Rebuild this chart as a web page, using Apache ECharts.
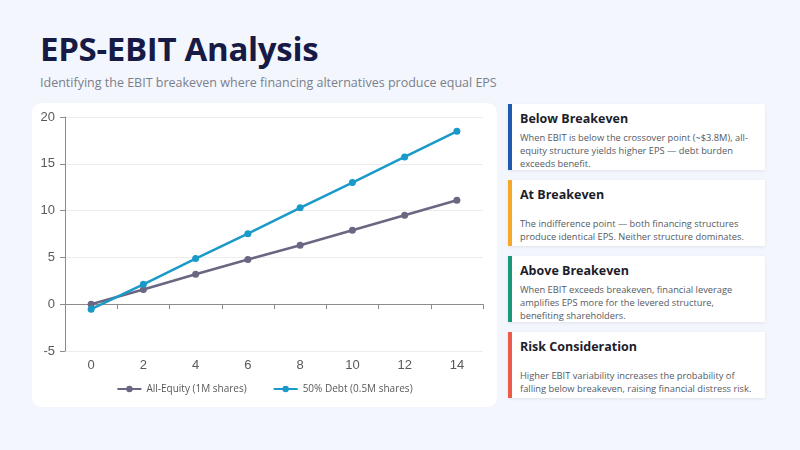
<!DOCTYPE html>
<html>
<head>
<meta charset="utf-8">
<script src="https://cdn.jsdelivr.net/npm/echarts@6/dist/echarts.min.js"></script>
<style>
body{margin:0;width:800px;height:450px;background:#f3f6fc;font-family:"Open Sans","Noto Sans",sans-serif;position:relative;overflow:hidden}
h1{position:absolute;left:40px;top:26px;margin:0;font-size:33px;font-weight:700;color:#161a45;letter-spacing:-0.3px}
.sub{position:absolute;left:40px;top:74px;font-size:12.5px;color:#7a7f8c}
.chartbox{position:absolute;left:32px;top:103px;width:465px;height:304px;background:#fff;border-radius:10px}
#chart{width:465px;height:304px}
.card{position:absolute;left:508px;width:257px;height:66px;background:#fff;box-shadow:0 1px 3px rgba(0,0,0,0.08);box-sizing:border-box;padding:6px 8px 0 12px}
.card:before{content:'';position:absolute;left:0;top:0;bottom:0;width:4px;background:var(--c)}
.card h3{margin:0;font-size:12.5px;font-weight:700;color:#1c1d2a}
.card p{margin:4px 0 0;font-size:9.3px;line-height:13px;color:#555a63}
.card p.gap{margin-top:14px}
</style>
</head>
<body>
<h1>EPS-EBIT Analysis</h1>
<div class="sub">Identifying the EBIT breakeven where financing alternatives produce equal EPS</div>
<div class="chartbox"><div id="chart"></div></div>

<div class="card" style="top:104px;--c:#1f5bb0"><h3>Below Breakeven</h3><p>When EBIT is below the crossover point (~$3.8M), all-equity structure yields higher EPS — debt burden exceeds benefit.</p></div>
<div class="card" style="top:180px;--c:#f5a72a"><h3>At Breakeven</h3><p class="gap">The indifference point — both financing structures produce identical EPS. Neither structure dominates.</p></div>
<div class="card" style="top:256px;--c:#17997a"><h3>Above Breakeven</h3><p>When EBIT exceeds breakeven, financial leverage amplifies EPS more for the levered structure, benefiting shareholders.</p></div>
<div class="card" style="top:332px;--c:#ec5a48"><h3>Risk Consideration</h3><p class="gap">Higher EBIT variability increases the probability of falling below breakeven, raising financial distress risk.</p></div>

<script>
const ebit=['0','2','4','6','8','10','12','14'];
const allEquity=[0,1.57,3.2,4.77,6.3,7.9,9.5,11.1];
const debt50=[-0.53,2.13,4.87,7.54,10.3,12.99,15.73,18.47];

var c=echarts.init(document.getElementById('chart'));
c.setOption({
 animation:false,
 grid:{left:33,right:14,top:14,bottom:56},
 legend:{top:276,left:'center',itemWidth:24,itemHeight:8,itemGap:26,
  textStyle:{fontSize:10,color:'#595959',fontFamily:'Open Sans'},
  data:['All-Equity (1M shares)','50% Debt (0.5M shares)']},
 xAxis:[
  {type:'category',data:ebit,axisLine:{show:false},axisTick:{show:false},
   axisLabel:{color:'#595959',fontSize:13,fontFamily:'Liberation Sans',margin:8}},
  {type:'category',data:ebit,position:'bottom',
   axisLine:{show:true,onZero:true,onZeroAxisIndex:0,lineStyle:{color:'#8c8c8c',width:1}},
   axisTick:{show:true,length:5,lineStyle:{color:'#8c8c8c'}},axisLabel:{show:false}}
 ],
 yAxis:{type:'value',min:-5,max:20,interval:5,
  axisLine:{show:true,lineStyle:{color:'#8c8c8c'}},
  axisTick:{show:true,length:5,lineStyle:{color:'#8c8c8c'}},
  axisLabel:{color:'#595959',fontSize:13,fontFamily:'Liberation Sans',margin:10},
  splitLine:{lineStyle:{color:'#ececec'}}},
 series:[
  {name:'All-Equity (1M shares)',type:'line',data:allEquity,symbol:'circle',symbolSize:7,
   lineStyle:{width:2.5,color:'#696781'},itemStyle:{color:'#696781'}},
  {name:'50% Debt (0.5M shares)',type:'line',data:debt50,symbol:'circle',symbolSize:7,
   lineStyle:{width:2.5,color:'#1a9ac8'},itemStyle:{color:'#1a9ac8'}}
 ]
});
</script>
</body>
</html>
